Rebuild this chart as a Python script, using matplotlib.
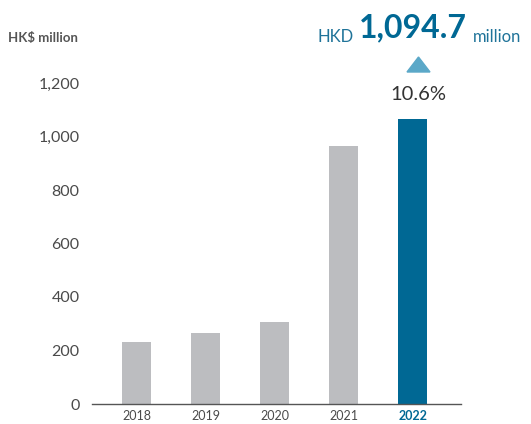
import matplotlib.pyplot as plt
from matplotlib.patches import Polygon

# data
years = ['2018', '2019', '2020', '2021', '2022']
revenue = [230, 265, 305, 965, 1065]
yticks = [0, 200, 400, 600, 800, 1000, 1200]
headline = '1,094.7'
growth = '10.6%'

GREY = '#bcbdc0'
BLUE = '#006894'
TEXT = '#4a4a4a'

plt.rcParams['font.family'] = ['Lato', 'DejaVu Sans']

W, H = 531, 424
fig = plt.figure(figsize=(W / 100, H / 100), dpi=100)


def fx(px):
    return px / W


def fy(py):
    return 1 - py / H


ax = fig.add_axes([fx(92), fy(404), fx(461) - fx(92), fy(83) - fy(404)])

colors = [GREY] * (len(years) - 1) + [BLUE]
x = range(len(years))
ax.bar(x, revenue, width=0.42, color=colors, zorder=2)

ax.set_xlim(-0.65, 4.70)
ax.set_ylim(0, 1200)
ax.set_yticks(yticks)
ax.set_yticklabels([f'{v:,}' for v in yticks], fontsize=11.5, color=TEXT)
ax.set_xticks(list(x))
ax.set_xticklabels(years, fontsize=9, color=TEXT)
ax.get_xticklabels()[-1].set_color(BLUE)
ax.get_xticklabels()[-1].set_fontweight('bold')
ax.tick_params(axis='y', length=0, pad=9)
ax.tick_params(axis='x', length=0, pad=4)

for side in ['top', 'right', 'left']:
    ax.spines[side].set_visible(False)
ax.spines['bottom'].set_color('#555555')
ax.spines['bottom'].set_linewidth(1.0)

# unit label
fig.text(fx(8), fy(38), 'HK$ million', fontsize=9.5, fontweight='bold',
         color='#555555', ha='left', va='center')

# headline figure: bold number with small words chained on each side
big = fig.text(fx(413), fy(37), headline, fontsize=23, fontweight='bold',
               color=BLUE, ha='center', va='baseline')
fig.canvas.draw()
ax.annotate('HKD', xy=(0, 0), xycoords=big, xytext=(-5, 0),
            textcoords='offset pixels', fontsize=12, color='#1f7399',
            ha='right', va='baseline', annotation_clip=False)
ax.annotate('million', xy=(1, 0), xycoords=big, xytext=(6, 0),
            textcoords='offset pixels', fontsize=12, color='#1f7399',
            ha='left', va='baseline', annotation_clip=False)

# up arrow and growth
tri = Polygon([(fx(407), fy(72)), (fx(430), fy(72)), (fx(418.5), fy(57))],
              closed=True, transform=fig.transFigure, color='#5ba8c8')
fig.add_artist(tri)
fig.text(fx(418), fy(94), growth, fontsize=14.5, color='#333333',
         ha='center', va='center')

fig.savefig('out.png', dpi=100)
